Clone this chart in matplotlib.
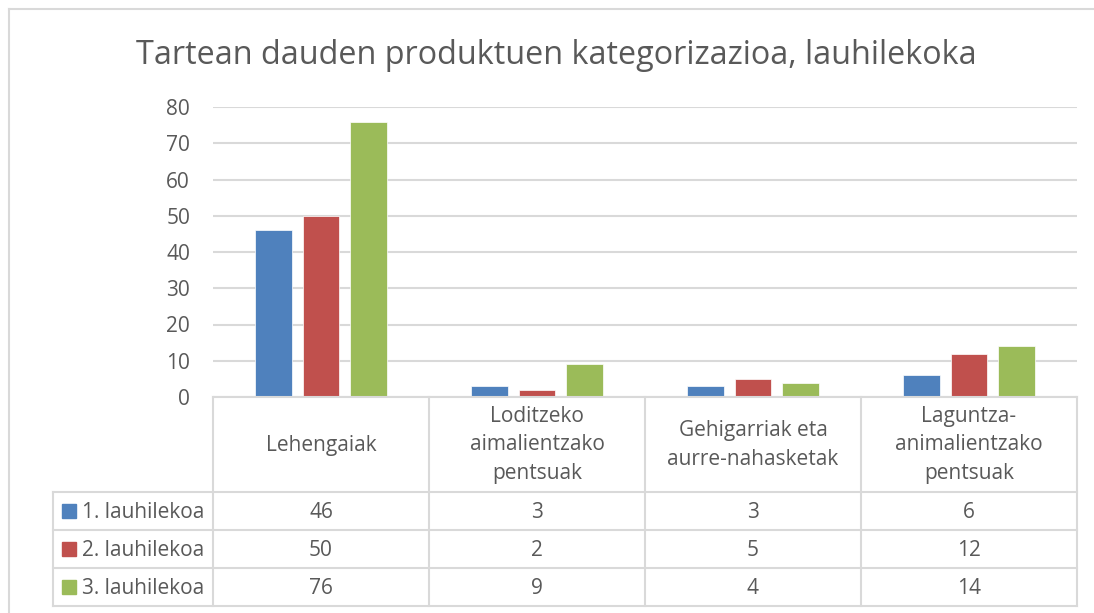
import matplotlib
matplotlib.use("Agg")
import matplotlib.pyplot as plt
from matplotlib.transforms import blended_transform_factory
from matplotlib.lines import Line2D
from matplotlib.patches import Rectangle

# data
categories = ["Lehengaiak", "Loditzeko\naimalientzako\npentsuak",
              "Gehigarriak eta\naurre-nahasketak", "Laguntza-\nanimalientzako\npentsuak"]
series_names = ["1. lauhilekoa", "2. lauhilekoa", "3. lauhilekoa"]
q1 = [46, 3, 3, 6]
q2 = [50, 2, 5, 12]
q3 = [76, 9, 4, 14]
title = "Tartean dauden produktuen kategorizazioa, lauhilekoka"

colors = ["#4f81bd", "#c0504d", "#9bbb59"]
text_col = "#595959"
line_col = "#d9d9d9"

plt.rcParams["font.family"] = ["Open Sans", "DejaVu Sans"]

W, H = 1094, 613
fig = plt.figure(figsize=(W / 100, H / 100), dpi=100)

def fx(px):
    return px / W

def fy(py):
    return 1 - py / H

# outer chart border
fig.add_artist(Line2D([fx(9), 1], [fy(9), fy(9)], color=line_col, lw=1.5))
fig.add_artist(Line2D([fx(9), fx(9)], [fy(9), 0], color=line_col, lw=1.5))

fig.text(fx(556), fy(55), title, ha="center", va="center", fontsize=23.3, color=text_col)

# plot area
ax = fig.add_axes([fx(213), fy(397), fx(1077) - fx(213), fy(107) - fy(397)])
x = range(len(categories))
offs = [-0.222, 0, 0.222]
for vals, off, c in zip([q1, q2, q3], offs, colors):
    ax.bar([i + off for i in x], vals, width=0.171, color=c, edgecolor="white", lw=0.5, zorder=3)
ax.set_xlim(-0.5, len(categories) - 0.5)
ax.set_ylim(0, 80)
ax.set_yticks(range(0, 81, 10))
ax.set_xticks([])
ax.yaxis.grid(True, color=line_col, lw=1.5)
ax.tick_params(axis="y", length=0, pad=16.5, labelsize=15, labelcolor=text_col)
for s in ax.spines.values():
    s.set_visible(False)

# data table
tr = blended_transform_factory(ax.transData, fig.transFigure)
row_y = [492, 530, 568, 606]
n = len(categories)
# horizontal lines
fig.add_artist(Line2D([fx(213), fx(1077)], [fy(397), fy(397)], color=line_col, lw=1.5))
for yy in row_y:
    fig.add_artist(Line2D([fx(53), fx(1077)], [fy(yy), fy(yy)], color=line_col, lw=1.5))
# vertical lines
fig.add_artist(Line2D([fx(53), fx(53)], [fy(492), fy(606)], color=line_col, lw=1.5))
for i in range(n + 1):
    ax.add_artist(Line2D([i - 0.5, i - 0.5], [fy(397), fy(606)], transform=tr,
                         color=line_col, lw=1.5, clip_on=False))

for i, cat in enumerate(categories):
    ax.text(i, fy(445), cat, transform=tr, ha="center", va="center", fontsize=15,
            color=text_col, linespacing=1.45, clip_on=False)

for r, (name, vals, c) in enumerate(zip(series_names, [q1, q2, q3], colors)):
    yc = (row_y[r] + row_y[r + 1]) / 2
    fig.add_artist(Rectangle((fx(62), fy(yc + 7)), fx(14), fy(0) - fy(14), color=c))
    fig.text(fx(82), fy(yc + 1.5), name, ha="left", va="center", fontsize=15, color=text_col)
    for i, v in enumerate(vals):
        ax.text(i, fy(yc + 1.5), str(v), transform=tr, ha="center", va="center", fontsize=15,
                color=text_col, clip_on=False)

fig.savefig("out.png", dpi=100)
